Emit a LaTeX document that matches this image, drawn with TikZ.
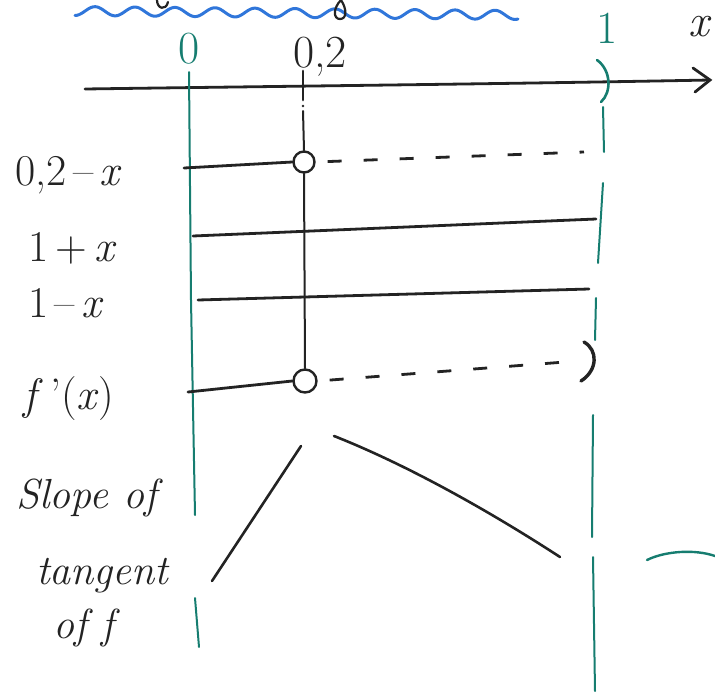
\documentclass[tikz,border=0pt]{standalone}
\usepackage{fontspec}
\usetikzlibrary{calc}
\definecolor{ink}{RGB}{35,35,35}
\definecolor{tealink}{RGB}{22,125,112}
\definecolor{wavecol}{RGB}{48,118,218}
\begin{document}
\begin{tikzpicture}[x=1pt,y=-1pt,
  inkline/.style={draw=ink, line width=2.8pt, line cap=round},
  tealline/.style={draw=tealink, line width=2pt, line cap=round},
  lbl/.style={text=ink, font=\fontsize{46}{52}\selectfont, inner sep=0pt},
  rlbl/.style={text=ink, font=\fontsize{44}{50}\selectfont, inner sep=0pt},
  slbl/.style={text=ink, font=\fontsize{42}{48}\selectfont\itshape, inner sep=0pt},
  dashline/.style={draw=ink, line width=2.8pt, dash pattern=on 14pt off 22pt, dash phase=24pt},
  markcircle/.style={circle, draw=ink, line width=2.4pt, inner sep=0pt, minimum size=21pt}]
\useasboundingbox (0,0) rectangle (715,691);

% blue wavy line and cut-off letters at top
\draw[wavecol, line width=3pt, line cap=round]
  plot[domain=75:518, samples=220, smooth] (\x, {11+0.009*(\x-75)+4.5*sin(9*(\x-75)+90)});
\draw[inkline, line width=2.2pt] (157,0) .. controls (157,9) and (166,11) .. (168,2);
\draw[inkline, line width=2.2pt] (341,0) .. controls (333,8) and (333,19) .. (340,19) .. controls (347,19) and (347,9) .. (341,0);

% x axis
\coordinate (axL) at (85,89);
\coordinate (axR) at (710,80);
\draw[inkline] (axL) .. controls (300,86) and (500,84) .. (axR);
\draw[inkline] ($(axR)+(-17,-12)$) -- (axR) -- ($(axR)+(-15,12)$);

% axis labels
\node[lbl, text=tealink, anchor=base] (l0) at (189,63) {0};
\node[lbl, anchor=base west] (l02) at (293,67) {0,2};
\node[lbl, text=tealink, anchor=base] (l1) at (607,43) {1};
\node[lbl, anchor=base] (lx) at (700,36) {\textit{x}};

% left teal line (x = 0)
\coordinate (L0) at (189,72);
\coordinate (L1) at (195,515);
\coordinate (L2) at (195,598);
\coordinate (L3) at (199,647);
\draw[tealline] (L0) -- (191,300) -- (L1);
\draw[tealline] (L2) -- (L3);

% middle black line (x = 0,2)
\node[markcircle] (c1) at (304,162) {};
\node[markcircle, minimum size=23pt] (c2) at (305,381) {};
\coordinate (M0) at (303,71);
\coordinate (M1) at (303,100);
\coordinate (M2) at (303,111);
\draw[inkline] (M0) -- (M1);
\fill[ink] (303,106) circle (1.4pt);
\draw[inkline, line width=2pt] (M2) -- (c1.north);
\draw[inkline, line width=2pt] (c1.south) -- (c2.north);

% right teal line (x = 1)
\draw[tealline, line width=2.6pt] (597,60) .. controls (611,70) and (612,92) .. (601,102);
\draw[tealline] (603,107) -- (604,152);
\draw[tealline] (603,183) -- (598,263);
\draw[tealline] (596,298) -- (595,340);
\draw[tealline] (593,415) -- (592,537);
\draw[tealline] (593,557) -- (595,691);

% rows
\coordinate (r1a) at (184,168);
\coordinate (r1b) at (584,152);
\draw[inkline] (r1a) -- (c1.west);
\draw[dashline] (c1.east) -- (r1b);

\coordinate (r2a) at (193,236);
\coordinate (r2b) at (596,219);
\draw[inkline] (r2a) -- (r2b);

\coordinate (r3a) at (198,300);
\coordinate (r3b) at (589,289);
\draw[inkline] (r3a) -- (r3b);

\coordinate (r4a) at (188,392);
\coordinate (r4b) at (578,361);
\draw[inkline] (r4a) -- (c2.west);
\draw[dashline] (c2.east) -- (r4b);
\draw[inkline, line width=3.4pt] (584,342) .. controls (598,350) and (598,370) .. (581,381);

% row labels
\node[rlbl, anchor=base west] (t1) at (15,185) {0,2\hspace{0.15em}–\hspace{0.15em}\textit{x}};
\node[rlbl, anchor=base west] (t2) at (28,261) {1\,+\,\textit{x}};
\node[rlbl, anchor=base west] (t3) at (28,317) {1\hspace{0.15em}–\hspace{0.15em}\textit{x}};
\node[rlbl, anchor=base west] (t4) at (23,409) {\textit{f}\,’(\textit{x})};
\node[slbl, anchor=base west] (s1) at (16,508) {Slope of};
\node[slbl, anchor=base west] (s2) at (36,584) {tangent};
\node[slbl, anchor=base west] (s3) at (53,638) {of f};

% slope sketch
\coordinate (sA) at (212,581);
\coordinate (sB) at (301,446);
\coordinate (sC) at (334,436);
\coordinate (sD) at (560,557);
\draw[inkline, line width=2.6pt] (sA) -- (sB);
\draw[inkline, line width=2.6pt] (sC) .. controls (400,462) and (480,505) .. (sD);

% teal arc at bottom right
\draw[tealline, line width=2.4pt] (647,560) .. controls (665,551) and (695,549) .. (715,556);
\end{tikzpicture}
\end{document}
